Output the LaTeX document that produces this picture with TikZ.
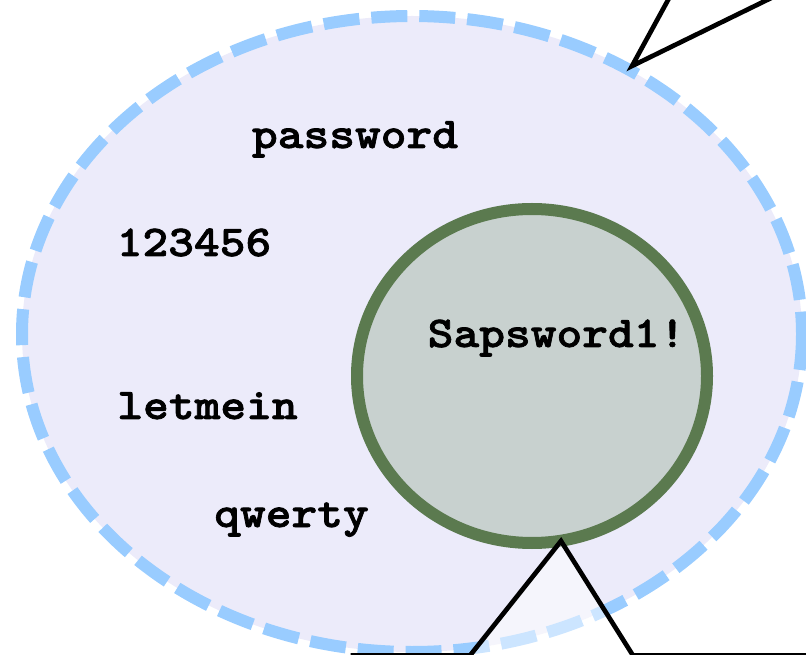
\documentclass[tikz,border=0pt]{standalone}
\usepackage{fontspec}
\newfontfamily\pwfont{lmmonolt10-bold.otf}[FakeBold=1.6, FakeStretch=1.115]
\definecolor{setfill}{RGB}{236,235,250}
\definecolor{setedge}{RGB}{153,204,255}
\definecolor{coreFill}{RGB}{200,209,207}
\definecolor{coreEdge}{RGB}{91,122,79}
\tikzset{
  pw/.style={anchor=base, inner sep=0pt, font=\fontsize{33}{36}\pwfont},
  calloutbox/.style={draw=black, line width=3.5pt, fill=white, fill opacity=0.5, line join=miter}
}
\begin{document}
\begin{tikzpicture}[x=0.75pt, y=-0.75pt]
  \useasboundingbox (0,0) rectangle (806,655);
  \clip (0,0) rectangle (806,655);

  % outer set of common passwords
  \draw[fill=setfill, draw=setedge, line width=9pt, dash pattern=on 27pt off 9pt]
    (412,334) ellipse [x radius=390, y radius=318];

  % inner set
  \draw[fill=coreFill, draw=coreEdge, line width=9pt]
    (532,376) ellipse [x radius=175, y radius=167];

  \node[pw] (password) at (355,148) {password};
  \node[pw] (num) at (194,256) {123456};
  \node[pw] (sap) at (556.5,347) {Sapsword1!};
  \node[pw] (letmein) at (207.5,419) {letmein};
  \node[pw] (qwerty) at (291.5,527) {qwerty};

  % callout pointing at the outer set
  \coordinate (tipA) at (632,66);
  \draw[calloutbox] (600,-10) -- (673.5,-10) -- (tipA) -- (787.5,-10) -- (900,-10)
    -- (900,-100) -- (600,-100) -- cycle;

  % callout pointing at the inner set
  \coordinate (tipB) at (561,541);
  \draw[calloutbox] (353,655.5) -- (470,655.5) -- (tipB) -- (633,655.5) -- (900,655.5)
    -- (900,760) -- (353,760) -- cycle;
\end{tikzpicture}
\end{document}
